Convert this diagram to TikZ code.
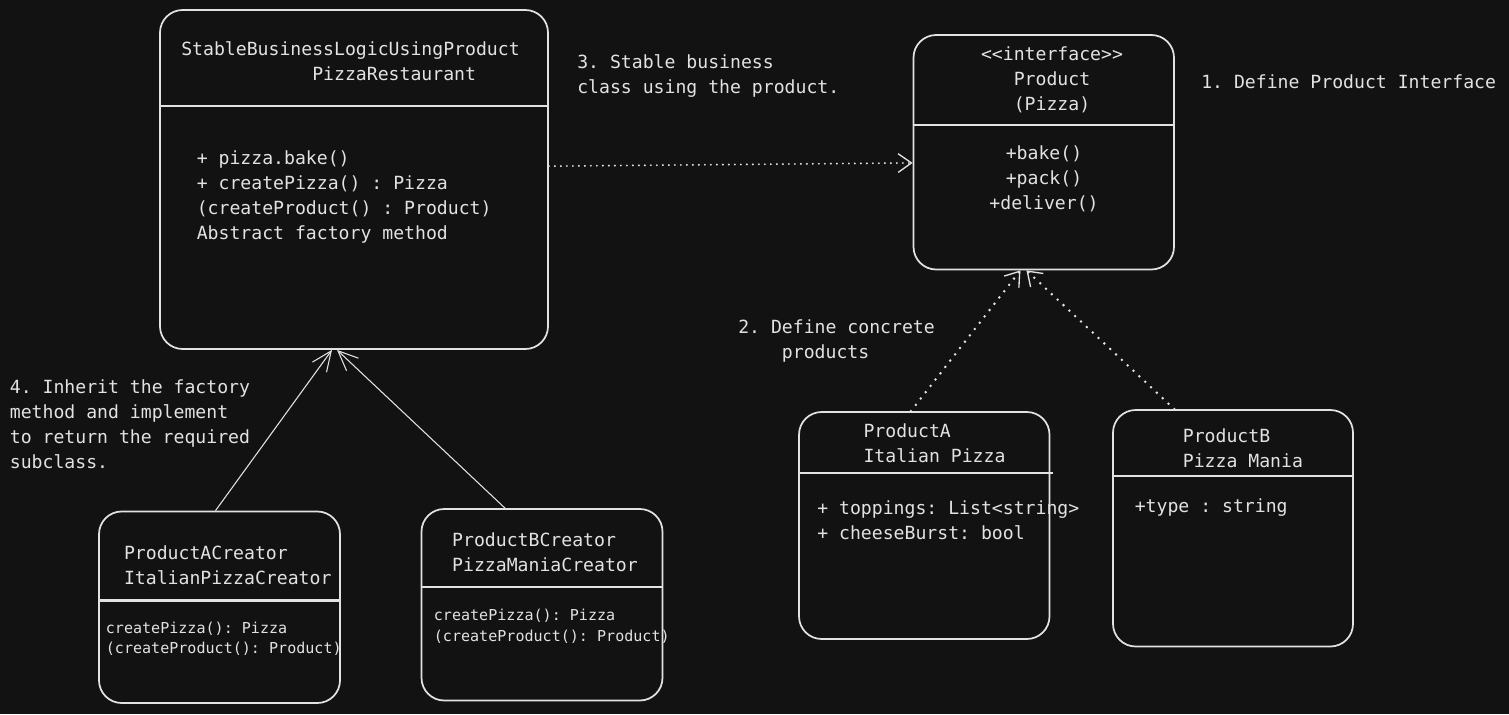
\documentclass[tikz,border=0pt]{standalone}
\usepackage{fontspec}
\setmonofont{DejaVu Sans Mono}
\usepackage{xcolor}
\usepackage{tikz}
\usetikzlibrary{arrows.meta, positioning, fit, calc}
\definecolor{bg}{HTML}{121212}
\definecolor{ink}{HTML}{E2E2E2}
\tikzset{
    base/.style={draw=ink, line width=1.3pt},
    block/.style={base, rectangle, rounded corners=17pt, inner sep=0pt},
    divider/.style={draw=ink, line width=2pt},
    txt/.style={text=ink, inner sep=0pt, align=left, yshift=-1.2pt, font=\ttfamily\fontsize{13.6}{18.75}\selectfont},
    txtsmall/.style={txt, font=\ttfamily\fontsize{11.3}{15.4}\selectfont},
    line/.style={draw=ink, line width=0.8pt, -{Straight Barb[length=15pt, width=13pt, line width=0.8pt]}},
    dotted-line/.style={draw=ink, line width=1.6pt, line cap=round, dash pattern=on 0pt off 4.5pt,
        -{Straight Barb[length=10pt, width=14pt, line width=1pt]}},
    dotted-line-wide/.style={dotted-line, line width=2.1pt, dash pattern=on 0pt off 6pt}
}

\begin{document}
\begin{tikzpicture}[x=0.75pt, y=-0.75pt]
    \fill[bg] (0,0) rectangle (1509,714);
    \useasboundingbox (0,0) rectangle (1509,714);

    % class boxes
    \node [block, fit={(160,10) (548,349)}] (rest) {};
    \node [block, fit={(913.5,35) (1174,269.5)}] (iface) {};
    \node [block, fit={(799,412) (1049.5,639)}] (pa) {};
    \node [block, fit={(1113,410) (1353,646.5)}] (pb) {};
    \node [block, fit={(99,511.5) (340,703)}] (acr) {};
    \node [block, fit={(421.5,509) (662.5,700.5)}] (bcr) {};

    \draw [divider] ($(rest.north west)+(0,97)$) -- ($(rest.north east)+(0,97)$);
    \draw [divider] ($(iface.north west)+(0,90.7)$) -- ($(iface.north east)+(0,90.7)$);
    \draw [divider] ($(pa.north west)+(0,62)$) -- ($(pa.north east)+(3,62)$);
    \draw [divider] ($(pb.north west)+(0,66.7)$) -- ($(pb.north east)+(0,66.7)$);
    \draw [divider] ($(acr.north west)+(0,90)$) -- ($(acr.north east)+(0,90)$);
    \draw [divider] ($(bcr.north west)+(0,79)$) -- ($(bcr.north east)+(0,79)$);

    % box texts
    \node [txt, anchor=west] (rest-name) at (181,59.7) {StableBusinessLogicUsingProduct\\\phantom{xxxxxxxxxxxx}PizzaRestaurant};
    \node [txt, anchor=west] (rest-ops) at (196.5,195.3) {+ pizza.bake()\\+ createPizza() : Pizza\\(createProduct() : Product)\\Abstract factory method};
    \node [txt, align=center] (iface-name) at (1052,78.3) {<<interface>>\\Product\\(Pizza)};
    \node [txt, align=center] (iface-ops) at (1044,177.5) {+bake()\\+pack()\\+deliver()};
    \node [txt, anchor=west] (pa-name) at (863.3,441.3) {ProductA\\Italian Pizza};
    \node [txt, anchor=west] (pa-attr) at (817,518.3) {+ toppings: List<string>\\+ cheeseBurst: bool};
    \node [txt, anchor=west] (pb-name) at (1182.6,446.7) {ProductB\\Pizza Mania};
    \node [txt, anchor=west] (pb-attr) at (1134.5,506) {+type : string};
    \node [txt, anchor=west] (acr-name) at (123.8,563.5) {ProductACreator\\ItalianPizzaCreator};
    \node [txtsmall, anchor=west] (acr-ops) at (105.6,637) {createPizza(): Pizza\\(createProduct(): Product)};
    \node [txt, anchor=west] (bcr-name) at (451.9,550.5) {ProductBCreator\\PizzaManiaCreator};
    \node [txtsmall, anchor=west] (bcr-ops) at (433.6,624.5) {createPizza(): Pizza\\(createProduct(): Product)};

    % notes
    \node [txt, anchor=west] (note1) at (1201,80) {1. Define Product Interface};
    \node [txt, anchor=west] (note2) at (738,339) {2. Define concrete\\\phantom{xxxx}products};
    \node [txt, anchor=west] (note3) at (577,74.5) {3. Stable business\\class using the product.};
    \node [txt, anchor=west] (note4) at (9.6,422.5) {4. Inherit the factory\\method and implement\\to return the required\\subclass.};

    % connectors
    \draw [line] ([xshift=-3pt]acr.north) -- ([xshift=-16.5pt]rest.south);
    \draw [line] ([xshift=-27.75pt]bcr.north) -- ([xshift=-12.75pt]rest.south);
    \draw [dotted-line] ([yshift=10pt]rest.east) -- ([yshift=-8pt]iface.west);
    \draw [dotted-line-wide] ([xshift=-10pt]pa.north) -- ([xshift=-17.5pt]iface.south);
    \draw [dotted-line-wide] ([xshift=-44pt]pb.north) -- ([xshift=-13pt]iface.south);
\end{tikzpicture}
\end{document}
